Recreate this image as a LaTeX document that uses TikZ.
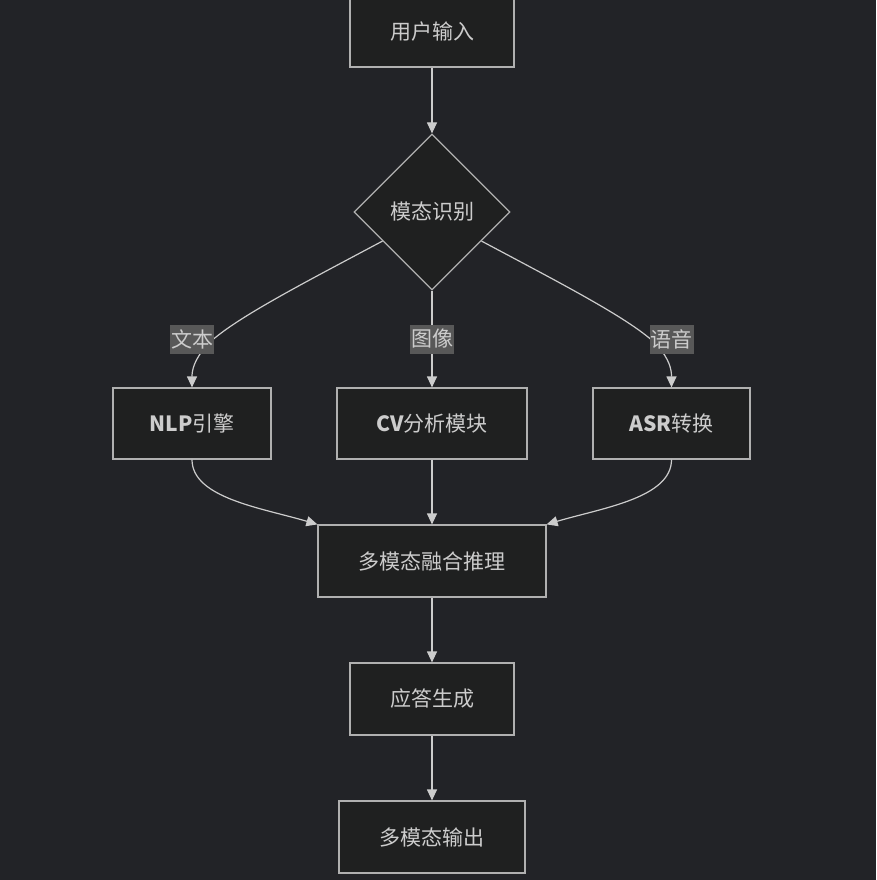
\documentclass[tikz,border=0pt]{standalone}
\usepackage{fontspec}
\setmainfont{Noto Sans CJK SC}
\usetikzlibrary{shapes.geometric,arrows.meta,calc}
\definecolor{bgc}{HTML}{222327}
\definecolor{nodefill}{HTML}{1F2020}
\definecolor{linec}{HTML}{CCCCCC}
\definecolor{boxline}{HTML}{B0B0B0}
\definecolor{txt}{HTML}{CCCCCC}
\definecolor{lblbg}{HTML}{585858}
\begin{document}
\begin{tikzpicture}[x=1pt,y=-1pt,
  box/.style={draw=boxline,fill=nodefill,line width=1.2pt,text=txt,inner sep=0pt,
    minimum height=71pt,font=\fontsize{21}{25}\selectfont},
  dia/.style={diamond,draw=boxline,fill=nodefill,line width=1.2pt,text=txt,inner sep=0pt,
    minimum width=156pt,minimum height=156pt,aspect=1,font=\fontsize{21}{25}\selectfont},
  lbl/.style={fill=lblbg,text=txt,inner sep=1pt,minimum height=29pt,minimum width=42pt,
    font=\fontsize{21}{25}\selectfont},
  conn/.style={draw=linec,line width=1.2pt,-{Triangle[length=11pt,width=10pt]}},
  plain/.style={draw=linec,line width=1.2pt}
]
\fill[bgc] (0,0) rectangle (876,880);
\useasboundingbox (0,0) rectangle (876,880);

\node[box,minimum width=164pt,minimum height=71pt] (in) at (432,31.5) {用户输入};
\node[dia] (d) at (432,212) {模态识别};
\node[box,minimum width=158pt] (nlp) at (192,423.5) {{\bfseries NLP}引擎};
\node[box,minimum width=190pt] (cv) at (432,423.5) {{\bfseries CV}分析模块};
\node[box,minimum width=157pt] (asr) at (671.5,423.5) {{\bfseries ASR}转换};
\node[box,minimum width=228pt,minimum height=72pt] (fuse) at (432,561) {多模态融合推理};
\node[box,minimum width=164pt,minimum height=72pt] (gen) at (432,699) {应答生成};
\node[box,minimum width=186pt,minimum height=72pt] (out) at (432,837) {多模态输出};

\coordinate (dl) at ($(d.west)!0.37!(d.south)$);
\coordinate (dr) at ($(d.east)!0.37!(d.south)$);

% edges
\draw[conn] (in.south) -- (d.north);
\draw[conn] (dl) .. controls (300,285) and (232,320) .. (207,345)
   .. controls (194,360) and (192,370) .. (nlp.north);
\draw[conn] (d.south) -- (cv.north);
\draw[conn] (dr) .. controls (564,285) and (632,320) .. (657,345)
   .. controls (670,360) and (671.5,370) .. (asr.north);
\draw[conn] (nlp.south) .. controls (192,498) and (262,508) .. (fuse.north west);
\draw[conn] (cv.south) -- (fuse.north);
\draw[conn] (asr.south) .. controls (671.5,498) and (602,508) .. (fuse.north east);
\draw[conn] (fuse.south) -- (gen.north);
\draw[conn] (gen.south) -- (out.north);

% labels
\node[lbl] (l1) at (192,339) {文本};
\node[lbl] (l2) at (432,339) {图像};
\node[lbl] (l3) at (671.5,339) {语音};
\end{tikzpicture}
\end{document}
